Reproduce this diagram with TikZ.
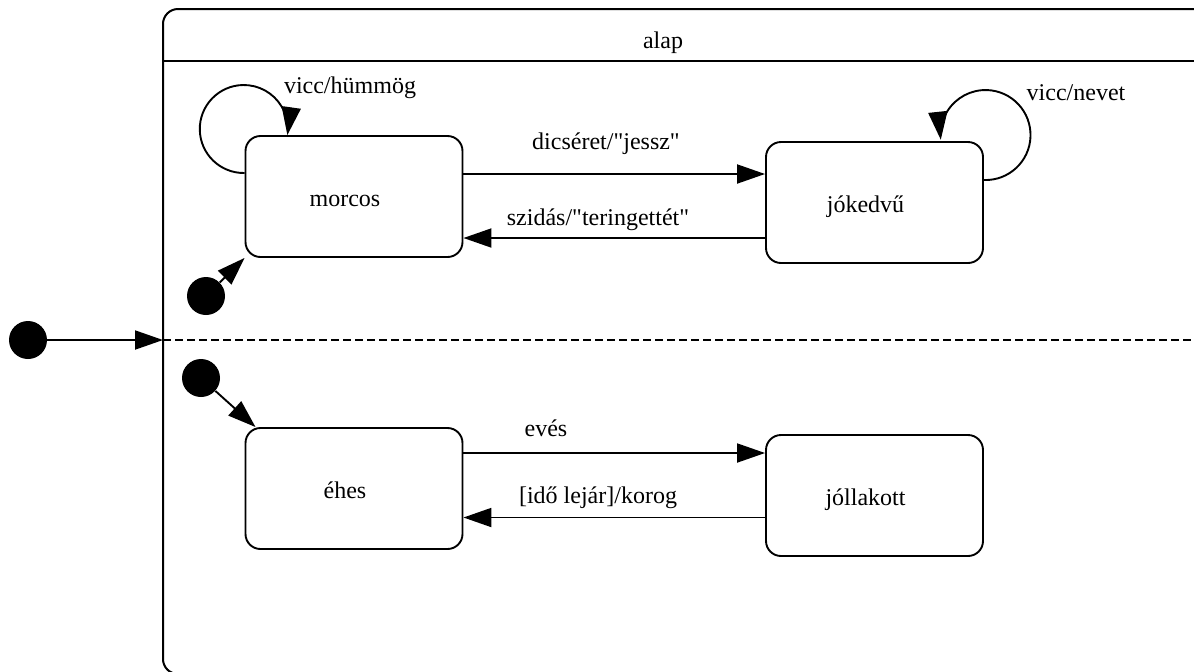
\documentclass[tikz,border=0pt]{standalone}
\usepackage{fontspec}
\newfontfamily\graphfont{Liberation Serif}
\usetikzlibrary{arrows.meta}
\begin{document}
\begin{tikzpicture}[x=.5pt,y=-.5pt,font=\graphfont\fontsize{12}{14}\selectfont,
  state/.style={draw,line width=.95pt,rounded corners=7.5pt,minimum width=108.5pt,minimum height=60.5pt,
    text height=12pt,text depth=2pt,execute at end node=\hspace*{9pt}},
  dot/.style={circle,fill=black,inner sep=0pt,minimum size=19pt},
  tr/.style={line width=.95pt,-{Triangle[length=14pt,width=9.5pt]}}]
\useasboundingbox (0,0) rectangle (1194,671);
\draw[line width=1pt,rounded corners=7.5pt] (163,9) rectangle (1215,674);
\draw[line width=1pt] (163,61) -- (1215,61);
\draw[line width=.8pt,dash pattern=on 4pt off 2pt] (163,340) -- (1194,340);
\node (alap) at (663,43) {alap};
\coordinate (split) at (163,340);
\foreach \n/\x/\y/\t in {morcos/354/196.5/morcos,jokedvu/874.5/202.5/jókedvű,ehes/354/488.5/éhes,jollakott/874.5/495.5/jóllakott}{\node[state] (\n) at (\x,\y){\t};}
\foreach \n/\x/\y in {init/28/340,inita/206/296,initb/201/378}{\node[dot] (\n) at (\x,\y){};}
\draw[tr] (init) -- (split);
\draw[tr] (inita) -- (morcos.south west);
\draw[tr] (initb) -- ([xshift=5.5pt]ehes.north west);
\draw[tr] ([yshift=11.25pt]morcos.east) coordinate (d1) -- (d1 -| jokedvu.west);
\draw[tr] ([yshift=-17.75pt]jokedvu.west) coordinate (d2) -- (d2 -| morcos.east);
\draw[tr] ([yshift=17.75pt]ehes.east) coordinate (d3) -- (d3 -| jollakott.west);
\draw[tr] ([yshift=-11pt]jollakott.west) coordinate (d4) -- (d4 -| ehes.east);
\draw[tr] ([yshift=11.75pt]morcos.west) arc[start angle=89,end angle=368,radius=44];
\draw[tr] ([yshift=11.25pt]jokedvu.east) arc[start angle=92,end angle=-186,radius=45];
\node (lhum) at (350,88) {vicc/hümmög};
\node (lnev) at (1076,93) {vicc/nevet};
\node (ldic) at (606,144) {dicséret/"jessz"};
\node (lszi) at (598,220) {szidás/"teringettét"};
\node (leve) at (546,428) {evés};
\node (lido) at (598,498) {[idő lejár]/korog};
\end{tikzpicture}
\end{document}
